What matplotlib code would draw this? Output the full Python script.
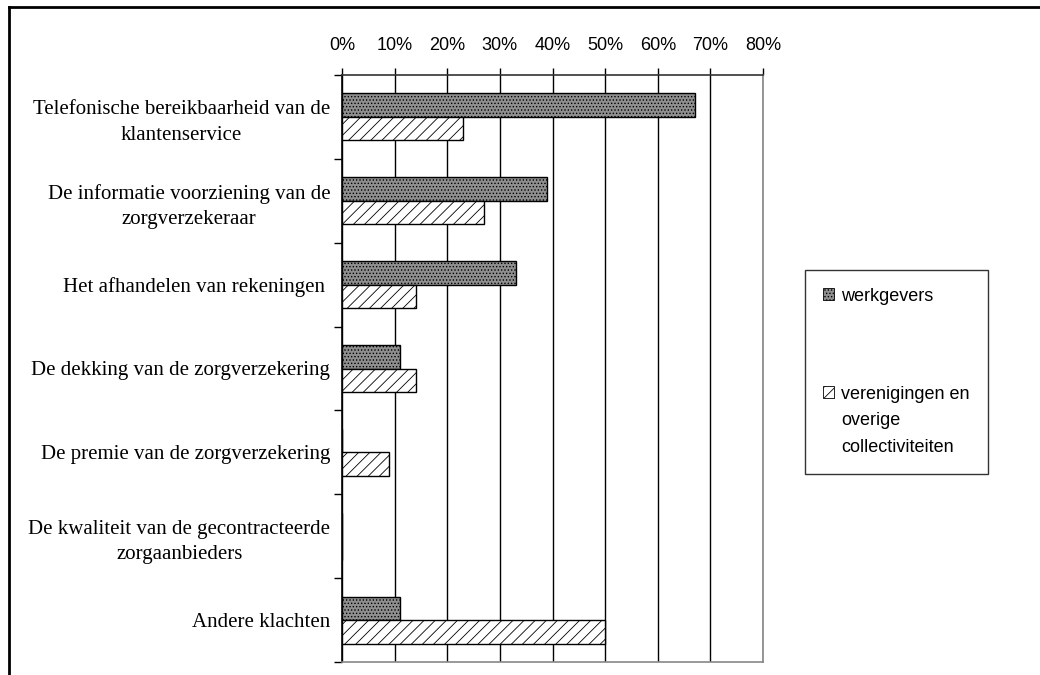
import matplotlib.pyplot as plt
import numpy as np
from matplotlib.lines import Line2D
from matplotlib.patches import Patch

# ---- Data (share of complaints per topic) ----
categories = [
    "Telefonische bereikbaarheid van de\nklantenservice",
    "De informatie voorziening van de\nzorgverzekeraar",
    "Het afhandelen van rekeningen ",
    "De dekking van de zorgverzekering",
    "De premie van de zorgverzekering",
    "De kwaliteit van de gecontracteerde\nzorgaanbieders",
    "Andere klachten",
]
werkgevers = [67, 39, 33, 11, 0, 0, 11]
verenigingen = [23, 27, 14, 14, 9, 0, 50]
xticks = [0, 10, 20, 30, 40, 50, 60, 70, 80]

plt.rcParams['hatch.linewidth'] = 0.6

fig = plt.figure(figsize=(10.4, 6.75), dpi=100)
ax = fig.add_axes([342 / 1040, 1 - 662 / 675, (763 - 342) / 1040, (662 - 75) / 675])

y = np.arange(len(categories))
h = 0.28
ax.barh(y - h / 2, werkgevers, height=h, facecolor='#8f8f8f', edgecolor='black',
        hatch='.....', linewidth=1.0, label='werkgevers', zorder=3)
ax.barh(y + h / 2, verenigingen, height=h, facecolor='white', edgecolor='black',
        hatch='///', linewidth=1.0, label='verenigingen en\noverige\ncollectiviteiten', zorder=3)

ax.set_xlim(0, 80)
ax.set_ylim(len(categories) - 0.5, -0.5)
ax.set_xticks(xticks)
ax.set_xticklabels([f"{v}%" for v in xticks], family='Liberation Sans', fontsize=13)
ax.xaxis.tick_top()
ax.tick_params(axis='x', length=5, width=1, pad=10, color='black')
ax.grid(True, axis='x', color='black', linewidth=1.0, zorder=0)

# category separators as ticks, labels at centres
ax.set_yticks(np.arange(len(categories) + 1) - 0.5)
ax.set_yticklabels([])
ax.set_yticks(y, minor=True)
ax.set_yticklabels(categories, minor=True, family='Liberation Serif', fontsize=15,
                   ha='right', multialignment='center', linespacing=1.45)
ax.tick_params(axis='y', which='major', length=6, width=1)
ax.tick_params(axis='y', which='minor', length=0, pad=8.5)

ax.spines['left'].set_color('black')
ax.spines['top'].set_color('#333333')
ax.spines['right'].set_color('#888888')
ax.spines['bottom'].set_color('#888888')
for s in ax.spines.values():
    s.set_linewidth(1.2)

handles = [Patch(facecolor='#8f8f8f', edgecolor='black', hatch='.....', linewidth=0.6),
           Patch(facecolor='white', edgecolor='black', hatch='///', linewidth=0.6)]
labels = ['werkgevers', 'verenigingen en\noverige\ncollectiviteiten']
leg = fig.legend(handles, labels, loc='upper left',
                 bbox_to_anchor=(805 / 1040, 1 - 270 / 675), borderaxespad=0,
                 prop={'family': 'Liberation Sans', 'size': 13},
                 handlelength=0.6, handleheight=0.6, handletextpad=0.4,
                 labelspacing=4.5, borderpad=1.0, frameon=True, fancybox=False,
                 edgecolor='black')
leg.get_frame().set_linewidth(1.0)
for t in leg.get_texts():
    t.set_linespacing(1.7)
# put each legend key next to the first line of its label
for col in leg._legend_handle_box.get_children():
    for row in col.get_children():
        row.align = 'top'

# outer frame (top and left edge)
fig.add_artist(Line2D([9 / 1040, 1.0], [1 - 7 / 675, 1 - 7 / 675], color='black', linewidth=2))
fig.add_artist(Line2D([9 / 1040, 9 / 1040], [0, 1 - 7 / 675], color='black', linewidth=2))

fig.savefig("out.png", dpi=100)
